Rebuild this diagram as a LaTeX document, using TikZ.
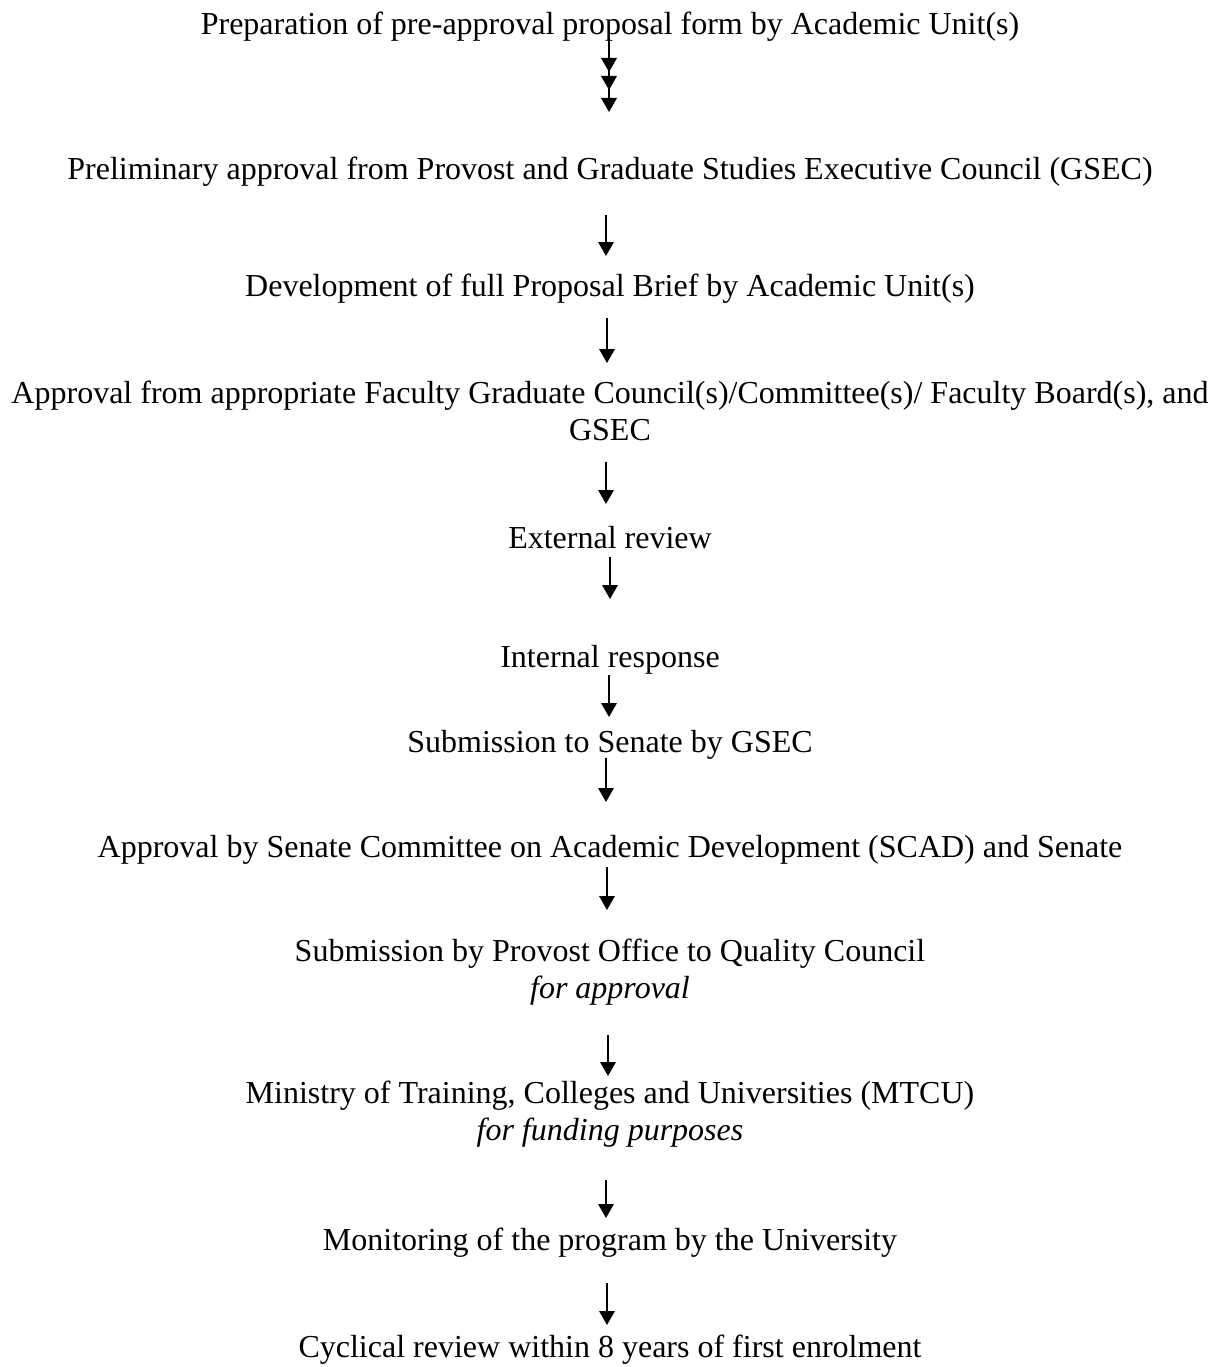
\documentclass[tikz,border=0pt]{standalone}
\usepackage{fontspec}
\setmainfont{Liberation Serif}
\usetikzlibrary{arrows.meta}
\begin{document}
\begin{tikzpicture}[x=1pt,y=-1pt,
  lbl/.style={anchor=base,inner sep=0pt,font=\fontsize{32}{37}\selectfont,align=center},
  flow/.style={line width=2pt,-{Triangle[length=14pt,width=15.5pt]}}]
\path[use as bounding box,fill=white] (0,0) rectangle (1220,1367);
% (multi-line nodes: base anchor = baseline of the last line)
\node[lbl] (n1) at (610,35) {Preparation of pre-approval proposal form by Academic Unit(s)};
\node[lbl] (n2) at (610,180) {Preliminary approval from Provost and Graduate Studies Executive Council (GSEC)};
\node[lbl] (n3) at (610,296) {Development of full Proposal Brief by Academic Unit(s)};
\node[lbl] (n4) at (610,440) {Approval from appropriate Faculty Graduate Council(s)/Committee(s)/ Faculty Board(s), and\\GSEC};
\node[lbl] (n5) at (610,548) {External review};
\node[lbl] (n6) at (610,667) {Internal response};
\node[lbl] (n7) at (610,752) {Submission to Senate by GSEC};
\node[lbl] (n8) at (610,857) {Approval by Senate Committee on Academic Development (SCAD) and Senate};
\node[lbl] (n9) at (610,998) {Submission by Provost Office to Quality Council\\\textit{for approval}};
\node[lbl] (n10) at (610,1140) {Ministry of Training, Colleges and Universities (MTCU)\\\textit{for funding purposes}};
\node[lbl] (n11) at (610,1250) {Monitoring of the program by the University};
\node[lbl] (n12) at (610,1357) {Cyclical review within 8 years of first enrolment};
% arrow end points
\coordinate (a1s) at (609,40);
\coordinate (a1a) at (609,72);
\coordinate (a1b) at (609,90);
\coordinate (a1c) at (609,112);
\coordinate (a2s) at (606,215);  \coordinate (a2e) at (606,256);
\coordinate (a3s) at (607,318);  \coordinate (a3e) at (607,363);
\coordinate (a4s) at (606,462);  \coordinate (a4e) at (606,504);
\coordinate (a5s) at (610,557);  \coordinate (a5e) at (610,599);
\coordinate (a6s) at (609,675);  \coordinate (a6e) at (609,717);
\coordinate (a7s) at (606,758);  \coordinate (a7e) at (606,802);
\coordinate (a8s) at (607,867);  \coordinate (a8e) at (607,910);
\coordinate (a9s) at (608,1035); \coordinate (a9e) at (608,1076);
\coordinate (a10s) at (606,1180); \coordinate (a10e) at (606,1218);
\coordinate (a11s) at (607,1283); \coordinate (a11e) at (607,1325);
\draw[flow] (a1s) -- (a1a);
\draw[flow] (a1s) -- (a1b);
\draw[flow] (a1s) -- (a1c);
\foreach \i in {2,...,11} \draw[flow] (a\i s) -- (a\i e);
\end{tikzpicture}
\end{document}
